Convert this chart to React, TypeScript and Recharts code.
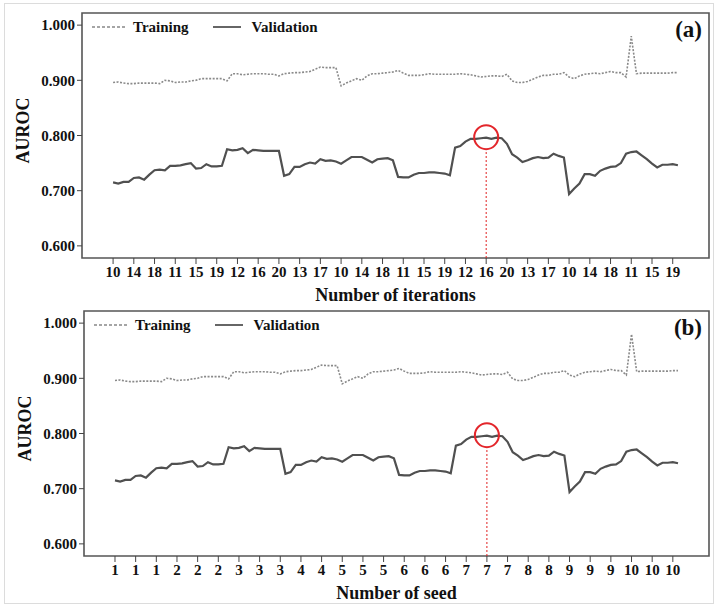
import React from "react";
import {
  LineChart,
  Line,
  XAxis,
  YAxis,
  ReferenceArea,
  ReferenceLine,
  ReferenceDot,
} from "recharts";

// AUROC per run (110 runs: 10 seeds x iterations 10..20)
const training = [
  0.896, 0.897, 0.895, 0.894, 0.894, 0.895, 0.895, 0.895, 0.895, 0.894,
  0.9, 0.899, 0.896, 0.897, 0.897, 0.899, 0.9, 0.903, 0.903, 0.903,
  0.903, 0.903, 0.899, 0.912, 0.912, 0.91, 0.911, 0.912, 0.912, 0.912,
  0.911, 0.911, 0.908, 0.912, 0.913, 0.914, 0.914, 0.915, 0.916, 0.92,
  0.924, 0.923, 0.923, 0.923, 0.89, 0.895, 0.899, 0.903, 0.9, 0.908,
  0.912, 0.912, 0.913, 0.914, 0.915, 0.918, 0.913, 0.909, 0.909, 0.909,
  0.91, 0.912, 0.911, 0.911, 0.911, 0.911, 0.911, 0.912, 0.911, 0.91,
  0.908, 0.906, 0.907, 0.908, 0.908, 0.907, 0.911, 0.899, 0.896, 0.896,
  0.898, 0.902, 0.906, 0.909, 0.909, 0.911, 0.911, 0.914, 0.906, 0.903,
  0.908, 0.911, 0.912, 0.913, 0.912, 0.914, 0.916, 0.914, 0.914, 0.906,
  0.98, 0.912, 0.913, 0.913, 0.913, 0.913, 0.913, 0.913, 0.914, 0.914,
];

const validation = [
  0.715, 0.713, 0.716, 0.716, 0.723, 0.724, 0.72, 0.729, 0.737, 0.738,
  0.737, 0.745, 0.745, 0.746, 0.748, 0.75, 0.74, 0.741, 0.748, 0.744,
  0.744, 0.745, 0.775, 0.773, 0.774, 0.777, 0.768, 0.774, 0.773, 0.772,
  0.772, 0.772, 0.772, 0.727, 0.73, 0.743, 0.743, 0.748, 0.751, 0.749,
  0.757, 0.754, 0.755, 0.753, 0.749, 0.755, 0.761, 0.761, 0.761, 0.756,
  0.751, 0.757, 0.758, 0.759, 0.755, 0.725, 0.724, 0.724, 0.729, 0.732,
  0.732, 0.733, 0.733, 0.732, 0.731, 0.728, 0.778, 0.781, 0.789, 0.794,
  0.794, 0.795, 0.796, 0.794, 0.796, 0.795, 0.785, 0.766, 0.76, 0.752,
  0.755, 0.759, 0.761, 0.759, 0.76, 0.767, 0.763, 0.76, 0.694, 0.704,
  0.713, 0.73, 0.73, 0.727, 0.736, 0.74, 0.743, 0.744, 0.75, 0.767,
  0.77, 0.771, 0.764, 0.757, 0.749, 0.742, 0.747, 0.747, 0.748, 0.746,
];

const iterationLabels = "10 14 18 11 15 19 12 16 20 13 17 10 14 18 11 15 19 12 16 20 13 17 10 14 18 11 15 19".split(" ");
const seedLabels = "1 1 1 2 2 2 3 3 3 4 4 5 5 5 6 6 6 7 7 7 8 8 9 9 9 10 10 10".split(" ");
const yTicks = [0.6, 0.7, 0.8, 0.9, 1.0];

const TICK_STEP = 4;
const BEST_RUN = 72;
const BEST_MARK = 0.797;

const X_DOMAIN: [number, number] = [-6, 115];
const Y_DOMAIN: [number, number] = [0.578, 1.022];
const FONT = '"Liberation Serif", "Times New Roman", serif';

const rows = training.map((t, i) => ({ idx: i, training: t, validation: validation[i] }));
const tickIdx = iterationLabels.map((_, k) => k * TICK_STEP);

const tickStyle = { fontSize: 15, fontWeight: 700, fill: "#111", fontFamily: FONT };

function Panel({ top, shift, labels, xTitle, tag }: { top: number; shift: number; labels: string[]; xTitle: string; tag: string }) {
  return (
    <div style={{ position: "absolute", top, left: 0, width: 720, height: 300, fontFamily: FONT, color: "#111" }}>
      <LineChart width={720} height={300} data={rows} margin={{ top: 13, right: 11, bottom: 12, left: 22 + shift }}>
        <XAxis
          type="number"
          dataKey="idx"
          domain={X_DOMAIN}
          ticks={tickIdx}
          interval={0}
          tickFormatter={(v: number) => labels[v / TICK_STEP]}
          axisLine={false}
          tickLine={{ stroke: "#444" }}
          tickSize={6}
          tickMargin={2}
          height={30}
          tick={tickStyle}
        />
        <YAxis
          type="number"
          domain={Y_DOMAIN}
          ticks={yTicks}
          interval={0}
          tickFormatter={(v: number) => v.toFixed(3)}
          axisLine={false}
          tickLine={{ stroke: "#444" }}
          tickSize={5}
          tickMargin={2}
          width={60}
          tick={tickStyle}
        />
        <ReferenceArea x1={X_DOMAIN[0]} x2={X_DOMAIN[1]} y1={Y_DOMAIN[0]} y2={Y_DOMAIN[1]} fill="none" stroke="#555" strokeWidth={1.6} />
        <Line dataKey="training" stroke="#8a8a8a" strokeWidth={1.6} strokeDasharray="2 1.5" dot={false} isAnimationActive={false} />
        <Line dataKey="validation" stroke="#505050" strokeWidth={2.2} dot={false} isAnimationActive={false} />
        <ReferenceLine
          segment={[{ x: BEST_RUN, y: Y_DOMAIN[0] }, { x: BEST_RUN, y: BEST_MARK - 0.021 }]}
          stroke="#e02020"
          strokeDasharray="2 2"
        />
        <ReferenceDot x={BEST_RUN} y={BEST_MARK} r={12} fill="none" stroke="#e3262b" strokeWidth={2} />
      </LineChart>

      {/* legend */}
      <div style={{ position: "absolute", left: 92 + shift, top: 17, height: 20, display: "flex", alignItems: "center", fontSize: 15, fontWeight: 700 }}>
        <svg width={33} height={4}><line x1={0} y1={2} x2={33} y2={2} stroke="#888" strokeWidth={1.5} strokeDasharray="3 2" /></svg>
        <span style={{ marginLeft: 8 }}>Training</span>
        <svg width={28} height={4} style={{ marginLeft: 24 }}><line x1={0} y1={2} x2={28} y2={2} stroke="#555" strokeWidth={1.8} /></svg>
        <span style={{ marginLeft: 11 }}>Validation</span>
      </div>

      <div style={{ position: "absolute", right: 18, top: 17, fontSize: 23, fontWeight: 700 }}>{tag}</div>

      <div style={{ position: "absolute", left: 23 + shift - 40, top: 120, width: 80, textAlign: "center", fontSize: 18, fontWeight: 700, transform: "rotate(-90deg)" }}>
        AUROC
      </div>

      <div style={{ position: "absolute", left: 82 + shift, width: 627 - shift, top: 285, textAlign: "center", fontSize: 18, fontWeight: 700 }}>
        {xTitle}
      </div>
    </div>
  );
}

export default function App() {
  return (
    <div style={{ position: "absolute", left: 0, top: 0, width: 720, height: 609, background: "#fff" }}>
      <div style={{ position: "absolute", left: 4, top: 3, width: 708, height: 599, border: "1px solid #dcdcdc" }} />
      <Panel top={0} shift={0} labels={iterationLabels} xTitle="Number of iterations" tag="(a)" />
      <Panel top={298} shift={2} labels={seedLabels} xTitle="Number of seed" tag="(b)" />
    </div>
  );
}
